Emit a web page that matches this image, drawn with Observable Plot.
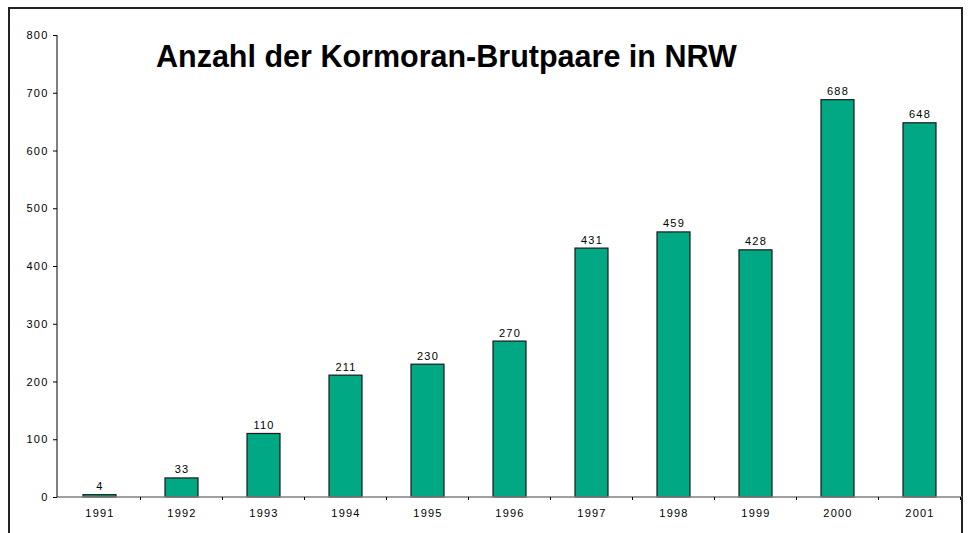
<!DOCTYPE html>
<html>
<head>
<meta charset="utf-8">
<script src="https://cdn.jsdelivr.net/npm/d3@7"></script>
<script src="https://cdn.jsdelivr.net/npm/@observablehq/plot@0.6"></script>
<style>
  html, body { margin: 0; padding: 0; background: #fff; overflow: hidden; }
  #wrap { position: relative; width: 968px; height: 533px; font-family: Arial, "Liberation Sans", sans-serif; }
  #border { position: absolute; left: 8px; top: 7px; width: 955px; height: 560px; border: 2px solid #222; box-sizing: border-box; }
  #title { position: absolute; left: 156px; top: 39px; font-size: 30.5px; font-weight: bold; color: #000; white-space: nowrap; line-height: 1.15; }
  #chart { position: absolute; left: 0; top: 0; }
  #chart svg text { letter-spacing: 1.2px; }
</style>
</head>
<body>
<div id="wrap">
  <div id="border"></div>
  <div id="chart"></div>
  <div id="title">Anzahl der Kormoran-Brutpaare in NRW</div>
</div>
<script>
const years = ["1991","1992","1993","1994","1995","1996","1997","1998","1999","2000","2001"];
const pairs = [4, 33, 110, 211, 230, 270, 431, 459, 428, 688, 648];
const yTicks = [0, 100, 200, 300, 400, 500, 600, 700, 800];
const barColor = "#00a984";

const data = years.map((y, i) => ({year: y, value: pairs[i]}));

function axesMark(index, scales, values, dims) {
  const g = d3.create("svg:g");
  const x = scales.x, y = scales.y;
  const step = x.step(), bw = x.bandwidth();
  const gap = (step - bw) / 2;
  const y0 = y(0), yTop = y(800);
  g.append("line")
    .attr("x1", dims.marginLeft).attr("x2", dims.width - dims.marginRight)
    .attr("y1", y0).attr("y2", y0)
    .attr("stroke", "#808080").attr("stroke-width", 1.5);
  years.forEach((yr) => {
    const bx = x(yr) + bw + gap;
    g.append("line")
      .attr("x1", bx).attr("x2", bx)
      .attr("y1", y0).attr("y2", y0 + 3)
      .attr("stroke", "#000").attr("stroke-width", 1);
  });
  g.append("line")
    .attr("x1", dims.marginLeft).attr("x2", dims.marginLeft)
    .attr("y1", yTop).attr("y2", y0)
    .attr("stroke", "#000").attr("stroke-width", 1);
  return g.node();
}

const chart = Plot.plot({
  width: 968,
  height: 533,
  marginLeft: 57,
  marginRight: 6,
  marginTop: 35,
  marginBottom: 36,
  style: { fontFamily: "Arial, 'Liberation Sans', sans-serif", fontSize: "11px", background: "transparent", overflow: "visible" },
  x: { domain: years, paddingInner: 0.6, paddingOuter: 0.3, label: null, axis: null },
  y: { domain: [0, 800], label: null, axis: null },
  marks: [
    Plot.barY(data, { x: "year", y: "value", fill: barColor, stroke: "#1a1a1a", strokeWidth: 1.2 }),
    Plot.text(data, { x: "year", y: "value", text: d => String(d.value), dy: -5, lineAnchor: "bottom", fontSize: 11, fill: "#000" }),
    Plot.axisY({ ticks: yTicks, tickSize: 4, tickPadding: 5, tickFormat: d => String(d), fontSize: 11, stroke: "#000", color: "#000" }),
    Plot.axisX({ tickSize: 0, tickPadding: 12, fontSize: 11, color: "#000" }),
    axesMark
  ]
});
document.getElementById("chart").appendChild(chart);
</script>
</body>
</html>
